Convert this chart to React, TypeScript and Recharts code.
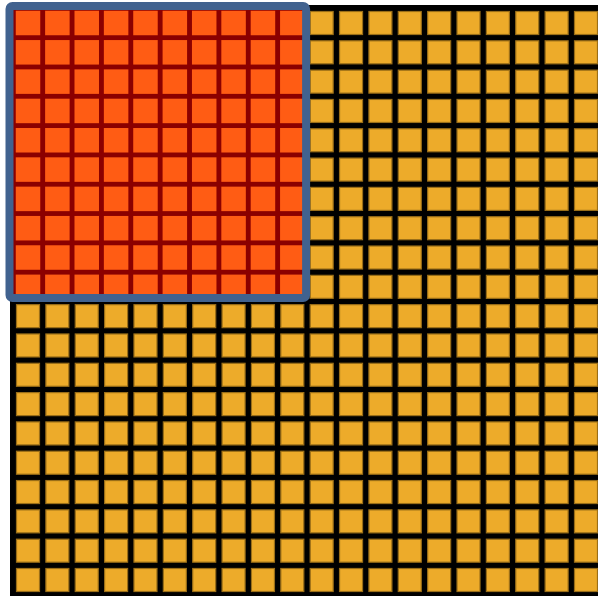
import React from 'react';
import {
  ScatterChart,
  Scatter,
  XAxis,
  YAxis,
  CartesianGrid,
  ReferenceArea,
} from 'recharts';

// grid of 20 x 20 cells, the top left 10 x 10 block is highlighted
const columns = [1, 2, 3, 4, 5, 6, 7, 8, 9, 10, 11, 12, 13, 14, 15, 16, 17, 18, 19, 20];
const rows = [1, 2, 3, 4, 5, 6, 7, 8, 9, 10, 11, 12, 13, 14, 15, 16, 17, 18, 19, 20];
const highlightColumns = [1, 2, 3, 4, 5, 6, 7, 8, 9, 10];
const highlightRows = [1, 2, 3, 4, 5, 6, 7, 8, 9, 10];

const cells = rows.flatMap((row) => columns.map((col) => ({ col, row })));
const isHighlighted = (c: { col: number; row: number }) =>
  highlightColumns.includes(c.col) && highlightRows.includes(c.row);
const plainCells = cells.filter((c) => !isHighlighted(c));
const hotCells = cells.filter(isHighlighted);

const YELLOW = '#EDAB2A';
const ORANGE = '#FF5C14';
const DARK_RED = '#8B0000';
const BLUE = '#41628F';

const square = (size: number, fill: string, stroke?: string) => (props: any) => {
  const { cx, cy } = props;
  return (
    <rect
      x={cx - size / 2}
      y={cy - size / 2}
      width={size}
      height={size}
      fill={fill}
      stroke={stroke || 'none'}
      strokeWidth={stroke ? 1.2 : 0}
    />
  );
};

export default function App() {
  return (
    <div style={{ position: 'absolute', left: 0, top: 0, width: 598, height: 596, background: '#fff', overflow: 'hidden' }}>
      <ScatterChart width={598} height={596} margin={{ top: 5, right: 0, bottom: 0, left: 10 }}>
        <CartesianGrid horizontal={false} vertical={false} fill="#000" fillOpacity={1} />
        <XAxis type="number" dataKey="col" hide domain={[0.387, 20.409]} allowDataOverflow />
        <YAxis type="number" dataKey="row" hide reversed domain={[0.386, 20.546]} allowDataOverflow />
        <ReferenceArea
          x1={0.37}
          x2={10.47}
          y1={0.42}
          y2={10.38}
          fill={DARK_RED}
          fillOpacity={1}
          stroke="none"
          ifOverflow="visible"
        />
        <Scatter data={plainCells} shape={square(23, YELLOW, '#9A6E18')} isAnimationActive={false} />
        <Scatter data={hotCells} shape={square(24.5, ORANGE)} isAnimationActive={false} />
        <ReferenceArea
          x1={0.37}
          x2={10.47}
          y1={0.42}
          y2={10.38}
          fill="none"
          fillOpacity={0}
          stroke={BLUE}
          strokeWidth={8}
          radius={3}
          ifOverflow="visible"
          isFront
          zIndex={1000}
        />
      </ScatterChart>
    </div>
  );
}
